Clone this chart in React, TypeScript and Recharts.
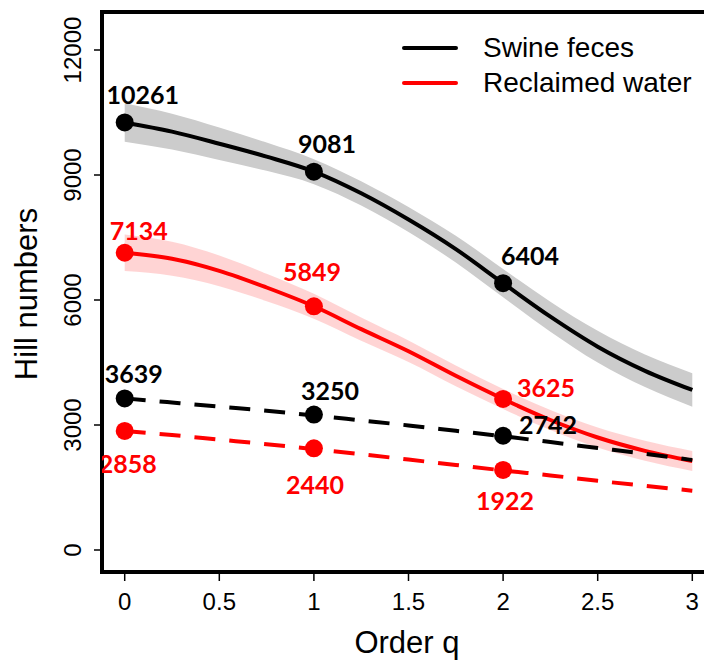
import React from "react";
import {
  ComposedChart,
  Area,
  Line,
  Scatter,
  XAxis,
  YAxis,
  ReferenceArea,
} from "recharts";

// order q grid for the interpolated / extrapolated curves
const Q_GRID = [0, 0.25, 0.5, 0.75, 1, 1.25, 1.5, 1.75, 2, 2.25, 2.5, 2.75, 3];

// estimated Hill numbers (solid) with confidence half-widths
const SWINE_EST = [10261, 10040, 9750, 9440, 9081, 8560, 7930, 7220, 6404, 5600, 4880, 4300, 3840];
const SWINE_CI = [460, 430, 390, 340, 300, 290, 300, 320, 340, 360, 380, 390, 400];
const WATER_EST = [7134, 6990, 6700, 6300, 5849, 5300, 4770, 4180, 3625, 3120, 2700, 2380, 2136];
const WATER_CI = [440, 410, 370, 330, 300, 280, 260, 250, 240, 240, 240, 240, 240];

// observed (dashed) curves
const SWINE_OBS = [3639, 3540, 3440, 3340, 3230, 3110, 2990, 2860, 2730, 2590, 2450, 2310, 2160];
const WATER_OBS = [2858, 2760, 2650, 2540, 2420, 2300, 2170, 2040, 1910, 1790, 1660, 1540, 1424];

// marked points at q = 0, 1, 2
const POINT_Q = [0, 1, 2];
const SWINE_EST_PTS = [10261, 9081, 6404];
const WATER_EST_PTS = [7134, 5849, 3625];
const SWINE_OBS_PTS = [3639, 3250, 2742];
const WATER_OBS_PTS = [2858, 2440, 1922];

const X_TICKS = [0, 0.5, 1, 1.5, 2, 2.5, 3];
const Y_TICKS = [0, 3000, 6000, 9000, 12000];

const SERIES_NAMES = ["Swine feces", "Reclaimed water"];

// label offsets from each dot (px), hand placed like the original
const OFF_SWINE_EST = [[18, -28], [13, -29], [27, -28]];
const OFF_WATER_EST = [[14, -23], [-2, -35], [43, -12]];
const OFF_SWINE_OBS = [[9, -25], [16, -25], [45, -12]];
const OFF_WATER_OBS = [[3, 32], [1, 36], [2, 30]];

const RED = "#ff0000";
const SANS = "'Liberation Sans', Arial, sans-serif";

const rows = Q_GRID.map((q, i) => ({
  q,
  swineEst: SWINE_EST[i],
  swineBand: [SWINE_EST[i] - SWINE_CI[i], SWINE_EST[i] + SWINE_CI[i]],
  waterEst: WATER_EST[i],
  waterBand: [WATER_EST[i] - WATER_CI[i], WATER_EST[i] + WATER_CI[i]],
  swineObs: SWINE_OBS[i],
  waterObs: WATER_OBS[i],
}));

const pts = (vals: number[]) => POINT_Q.map((q, i) => ({ q, v: vals[i] }));

function dotWithLabel(color: string, offsets: number[][]) {
  return (props: any) => {
    const { cx, cy, payload } = props;
    const i = POINT_Q.indexOf(payload.q);
    const [dx, dy] = offsets[i] ?? [0, -25];
    return (
      <g>
        <circle cx={cx} cy={cy} r={9} fill={color} />
        <text
          x={cx + dx}
          y={cy + dy}
          textAnchor="middle"
          dominantBaseline="central"
          fontFamily="Lato, sans-serif"
          fontWeight={700}
          fontSize={25}
          fill={color}
        >
          {payload.v}
        </text>
      </g>
    );
  };
}

function XTick({ x, y, payload }: any) {
  return (
    <text x={x} y={y + 18} textAnchor="middle" dominantBaseline="central" fontFamily={SANS} fontSize={24} fill="#000">
      {String(payload.value)}
    </text>
  );
}

function YTick({ x, y, payload }: any) {
  const tx = x - 20;
  return (
    <text
      x={tx}
      y={y}
      transform={`rotate(-90 ${tx} ${y})`}
      textAnchor="middle"
      dominantBaseline="central"
      fontFamily={SANS}
      fontSize={24}
      fill="#000"
    >
      {String(payload.value)}
    </text>
  );
}

// legend drawn as an overlay so it does not take space from the plot
function LegendBox() {
  const colors = ["#000", RED];
  return (
    <div style={{ position: "absolute", left: 394, top: 22, width: 320, height: 80, fontFamily: SANS }}>
      {SERIES_NAMES.map((name, i) => (
        <div key={name}>
          <div
            style={{
              position: "absolute",
              left: 0,
              top: 16 + i * 35,
              width: 56,
              height: 4,
              borderRadius: 2,
              background: colors[i],
            }}
          />
          <div
            style={{
              position: "absolute",
              left: 81,
              top: i * 35,
              fontSize: 28,
              lineHeight: "36px",
              color: "#000",
              whiteSpace: "nowrap",
            }}
          >
            {name}
          </div>
        </div>
      ))}
    </div>
  );
}

export default function App() {
  return (
    <div
      style={{
        position: "fixed",
        left: 8,
        top: 8,
        width: 696,
        height: 657,
        overflow: "hidden",
        background: "#fff",
      }}
    >
      <ComposedChart
        width={720}
        height={657}
        data={rows}
        margin={{ top: 4, right: 13, bottom: 0, left: 0 }}
      >
        <XAxis
          dataKey="q"
          type="number"
          domain={[-0.12, 3.12]}
          ticks={X_TICKS}
          allowDataOverflow
          axisLine={false}
          tickLine={{ stroke: "#000", strokeWidth: 1.5 }}
          tickSize={9}
          height={93}
          tick={<XTick />}
          label={() => (
            <text x={399} y={634} textAnchor="middle" dominantBaseline="central" fontFamily={SANS} fontSize={31} fill="#000">
              Order q
            </text>
          )}
        />
        <YAxis
          type="number"
          domain={[-528, 12912]}
          ticks={Y_TICKS}
          allowDataOverflow
          axisLine={false}
          tickLine={{ stroke: "#000", strokeWidth: 1.5 }}
          tickSize={8}
          width={94}
          tick={<YTick />}
          label={() => (
            <text
              x={18}
              y={286}
              transform="rotate(-90 18 286)"
              textAnchor="middle"
              dominantBaseline="central"
              fontFamily={SANS}
              fontSize={31}
              fill="#000"
            >
              Hill numbers
            </text>
          )}
        />

        <Area type="monotone" dataKey="swineBand" stroke="none" fill="#cccccc" fillOpacity={1} isAnimationActive={false} legendType="none" />
        <Area type="monotone" dataKey="waterBand" stroke="none" fill="#ffcccc" fillOpacity={0.85} isAnimationActive={false} legendType="none" />

        <Line type="monotone" dataKey="swineEst" stroke="#000" strokeWidth={4} dot={false} isAnimationActive={false} />
        <Line type="monotone" dataKey="waterEst" stroke={RED} strokeWidth={4} dot={false} isAnimationActive={false} />
        <Line type="monotone" dataKey="swineObs" stroke="#000" strokeWidth={4} strokeDasharray="21 14" dot={false} isAnimationActive={false} />
        <Line type="monotone" dataKey="waterObs" stroke={RED} strokeWidth={4} strokeDasharray="21 14" dot={false} isAnimationActive={false} />

        <Scatter data={pts(SWINE_EST_PTS)} dataKey="v" shape={dotWithLabel("#000", OFF_SWINE_EST)} isAnimationActive={false} />
        <Scatter data={pts(WATER_EST_PTS)} dataKey="v" shape={dotWithLabel(RED, OFF_WATER_EST)} isAnimationActive={false} />
        <Scatter data={pts(SWINE_OBS_PTS)} dataKey="v" shape={dotWithLabel("#000", OFF_SWINE_OBS)} isAnimationActive={false} />
        <Scatter data={pts(WATER_OBS_PTS)} dataKey="v" shape={dotWithLabel(RED, OFF_WATER_OBS)} isAnimationActive={false} />

        <ReferenceArea x1={-0.12} x2={3.12} y1={-528} y2={12912} fill="none" stroke="#000" strokeWidth={4} />
      </ComposedChart>
      <LegendBox />
    </div>
  );
}
